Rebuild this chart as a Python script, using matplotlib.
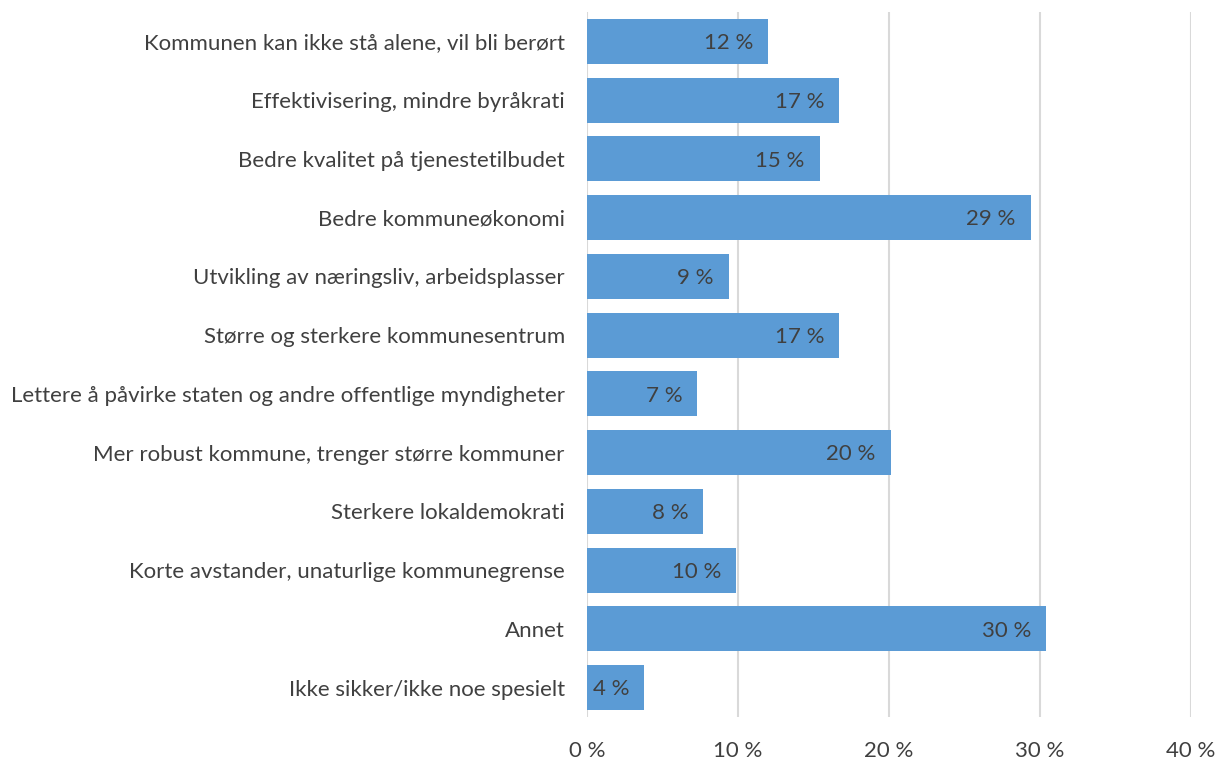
import matplotlib
matplotlib.use("Agg")
import matplotlib.pyplot as plt
import numpy as np

categories = [
    "Kommunen kan ikke stå alene, vil bli berørt",
    "Effektivisering, mindre byråkrati",
    "Bedre kvalitet på tjenestetilbudet",
    "Bedre kommuneøkonomi",
    "Utvikling av næringsliv, arbeidsplasser",
    "Større og sterkere kommunesentrum",
    "Lettere å påvirke staten og andre offentlige myndigheter",
    "Mer robust kommune, trenger større kommuner",
    "Sterkere lokaldemokrati",
    "Korte avstander, unaturlige kommunegrense",
    "Annet",
    "Ikke sikker/ikke noe spesielt",
]
values = [12.0, 16.7, 15.4, 29.4, 9.4, 16.7, 7.3, 20.1, 7.7, 9.9, 30.4, 3.8]
xticks = [0, 10, 20, 30, 40]

plt.rcParams['font.family'] = ['Lato', 'DejaVu Sans']
txt = '#404040'
fs = 16

fig = plt.figure(figsize=(12.24, 7.65), dpi=100)
ax = fig.add_axes([587/1224, 1-717/765, (1191-587)/1224, (717-12)/765])

y = np.arange(len(categories))
ax.barh(y, values, height=0.77, color='#5B9BD5', zorder=3)
ax.set_ylim(len(categories)-0.5, -0.5)
ax.set_xlim(0, 40)
ax.set_xticks(xticks)
ax.set_xticklabels([f"{t} %" for t in xticks], fontsize=fs, color=txt)
ax.set_yticks(y)
ax.set_yticklabels(categories, fontsize=fs, color=txt)
ax.tick_params(length=0)
ax.tick_params(axis='x', pad=17)
ax.tick_params(axis='y', pad=16)
ax.grid(axis='x', color='#D9D9D9', linewidth=1.5, zorder=0)
for s in ax.spines.values():
    s.set_visible(False)

for yi, v in zip(y, values):
    ax.text(v - 1.0, yi + 0.03, f"{round(v):d} %", ha='right', va='center', fontsize=fs, color=txt, zorder=4)

fig.savefig("out.png", dpi=100)
